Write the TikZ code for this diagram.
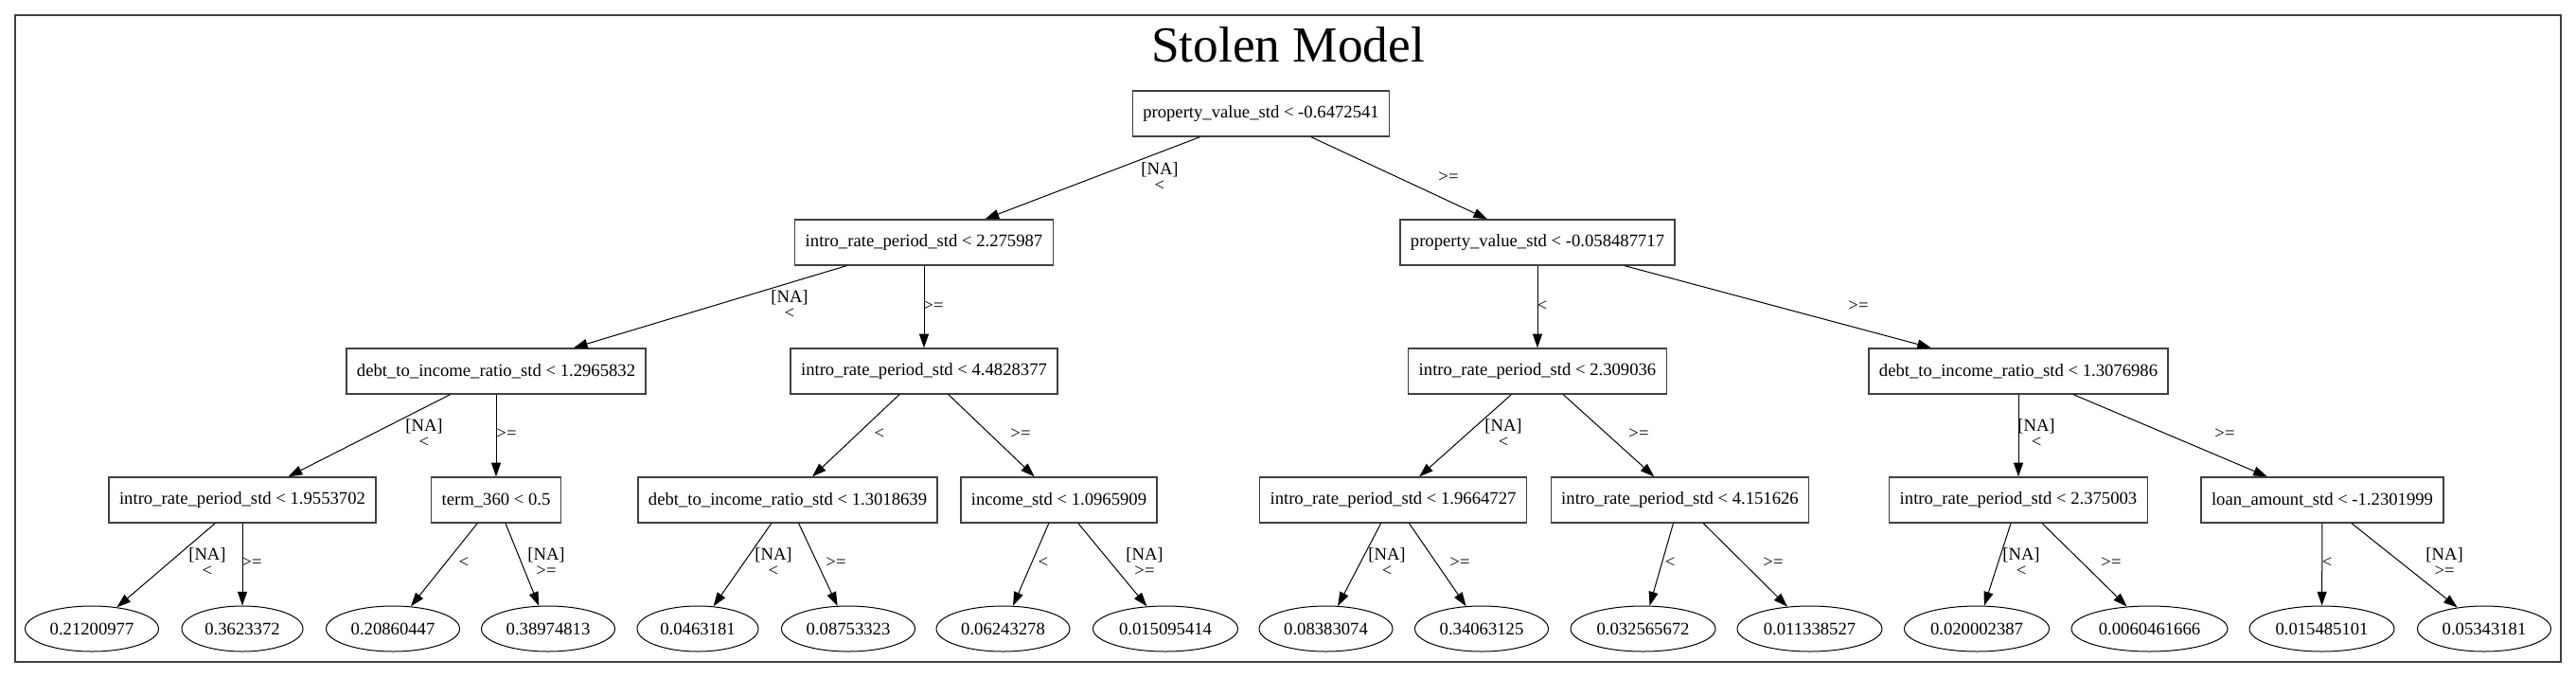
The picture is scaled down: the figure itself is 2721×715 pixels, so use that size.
\documentclass[tikz,border=0pt]{standalone}
\usepackage{fontspec}
\setmainfont{Liberation Serif}
\usetikzlibrary{arrows.meta,shapes.geometric}
\begin{document}
\begin{tikzpicture}[x=0.75pt,y=-0.75pt,
  splitbox/.style={draw=black!75, line width=1pt, rectangle, minimum height=36pt,
    inner xsep=8.25pt, inner ysep=0pt, font=\fontsize{14}{13}\selectfont},
  leafnode/.style={draw=black, line width=0.75pt, ellipse, minimum height=36pt,
    inner sep=0pt, font=\fontsize{14}{13}\selectfont},
  wseven/.style={minimum width=96pt},
  weight/.style={minimum width=105.75pt},
  wnine/.style={minimum width=114.75pt},
  wten/.style={minimum width=123.75pt},
  conn/.style={draw=black, line width=0.75pt, -{Triangle[length=11pt,width=7.5pt]}},
  elab/.style={align=center, inner sep=0pt, font=\fontsize{14}{13}\selectfont}
]
\useasboundingbox (0,0) rectangle (2721,715);
\draw[black!75, line width=0.9pt] (16,16) rectangle (2705,699);
\node[anchor=base, inner sep=0pt, font=\fontsize{40}{40}\selectfont] (title) at (1360.5,65) {Stolen Model};

% split nodes
\node[splitbox] (n0) at (1332,120) {property\_value\_std < -0.6472541};
\node[splitbox] (n1) at (976,256) {intro\_rate\_period\_std < 2.275987};
\node[splitbox] (n2) at (1624,256) {property\_value\_std < -0.058487717};
\node[splitbox] (n3) at (524,392) {debt\_to\_income\_ratio\_std < 1.2965832};
\node[splitbox] (n4) at (976,392) {intro\_rate\_period\_std < 4.4828377};
\node[splitbox] (n5) at (1624,392) {intro\_rate\_period\_std < 2.309036};
\node[splitbox] (n6) at (2132,392) {debt\_to\_income\_ratio\_std < 1.3076986};
\node[splitbox] (n7) at (256,528) {intro\_rate\_period\_std < 1.9553702};
\node[splitbox] (n8) at (524,528) {term\_360 < 0.5};
\node[splitbox] (n9) at (832,528) {debt\_to\_income\_ratio\_std < 1.3018639};
\node[splitbox] (n10) at (1118.5,528) {income\_std < 1.0965909};
\node[splitbox] (n11) at (1471.5,528) {intro\_rate\_period\_std < 1.9664727};
\node[splitbox] (n12) at (1774.5,528) {intro\_rate\_period\_std < 4.151626};
\node[splitbox] (n13) at (2132,528) {intro\_rate\_period\_std < 2.375003};
\node[splitbox] (n14) at (2453,528) {loan\_amount\_std < -1.2301999};

% leaves
\node[leafnode, weight] (l1) at (97,664) {0.21200977};
\node[leafnode, wseven] (l2) at (256,664) {0.3623372};
\node[leafnode, weight] (l3) at (415,664) {0.20860447};
\node[leafnode, weight] (l4) at (579,664) {0.38974813};
\node[leafnode, wseven] (l5) at (737,664) {0.0463181};
\node[leafnode, weight] (l6) at (896,664) {0.08753323};
\node[leafnode, weight] (l7) at (1059.5,664) {0.06243278};
\node[leafnode, wnine] (l8) at (1231,664) {0.015095414};
\node[leafnode, weight] (l9) at (1400.5,664) {0.08383074};
\node[leafnode, weight] (l10) at (1565,664) {0.34063125};
\node[leafnode, wnine] (l11) at (1735.5,664) {0.032565672};
\node[leafnode, wnine] (l12) at (1911.5,664) {0.011338527};
\node[leafnode, wnine] (l13) at (2088,664) {0.020002387};
\node[leafnode, wten] (l14) at (2270.5,664) {0.0060461666};
\node[leafnode, wnine] (l15) at (2452.5,664) {0.015485101};
\node[leafnode, weight] (l16) at (2624,664) {0.05343181};

% connectors
\draw[conn] (n0) -- (n1);
\draw[conn] (n0) -- (n2);
\draw[conn] (n1) -- (n3);
\draw[conn] (n1) -- (n4);
\draw[conn] (n2) -- (n5);
\draw[conn] (n2) -- (n6);
\draw[conn] (n3) -- (n7);
\draw[conn] (n3) -- (n8);
\draw[conn] (n4) -- (n9);
\draw[conn] (n4) -- (n10);
\draw[conn] (n5) -- (n11);
\draw[conn] (n5) -- (n12);
\draw[conn] (n6) -- (n13);
\draw[conn] (n6) -- (n14);
\draw[conn] (n7) -- (l1);
\draw[conn] (n7) -- (l2);
\draw[conn] (n8) -- (l3);
\draw[conn] (n8) -- (l4);
\draw[conn] (n9) -- (l5);
\draw[conn] (n9) -- (l6);
\draw[conn] (n10) -- (l7);
\draw[conn] (n10) -- (l8);
\draw[conn] (n11) -- (l9);
\draw[conn] (n11) -- (l10);
\draw[conn] (n12) -- (l11);
\draw[conn] (n12) -- (l12);
\draw[conn] (n13) -- (l13);
\draw[conn] (n13) -- (l14);
\draw[conn] (n14) -- (l15);
\draw[conn] (n14) -- (l16);

% edge labels
\node[elab] (e01) at (1225,186.5) {[NA]\\<};
\node[elab] (e02) at (1530,187) {>=};
\node[elab] (e13) at (834,321.5) {[NA]\\<};
\node[elab] (e14) at (986,323) {>=};
\node[elab] (e25) at (1629,323) {<};
\node[elab] (e26) at (1963,323) {>=};
\node[elab] (e37) at (448,457.5) {[NA]\\<};
\node[elab] (e38) at (535,458) {>=};
\node[elab] (e49) at (929,458) {<};
\node[elab] (e410) at (1078,458) {>=};
\node[elab] (e511) at (1588,457.5) {[NA]\\<};
\node[elab] (e512) at (1731,458) {>=};
\node[elab] (e613) at (2151,457.5) {[NA]\\<};
\node[elab] (e614) at (2350,458) {>=};
\node[elab] (e71) at (219,593.5) {[NA]\\<};
\node[elab] (e72) at (266,594.5) {>=};
\node[elab] (e83) at (490,594.5) {<};
\node[elab] (e84) at (577,593.5) {[NA]\\>=};
\node[elab] (e95) at (817,593.5) {[NA]\\<};
\node[elab] (e96) at (883,594.5) {>=};
\node[elab] (e107) at (1102,594.5) {<};
\node[elab] (e108) at (1209,593.5) {[NA]\\>=};
\node[elab] (e119) at (1465,593.5) {[NA]\\<};
\node[elab] (e1110) at (1542,594.5) {>=};
\node[elab] (e1211) at (1764,594.5) {<};
\node[elab] (e1212) at (1873,594.5) {>=};
\node[elab] (e1313) at (2135,593.5) {[NA]\\<};
\node[elab] (e1314) at (2230,594.5) {>=};
\node[elab] (e1415) at (2458,594.5) {<};
\node[elab] (e1416) at (2582,593.5) {[NA]\\>=};
\end{tikzpicture}
\end{document}
